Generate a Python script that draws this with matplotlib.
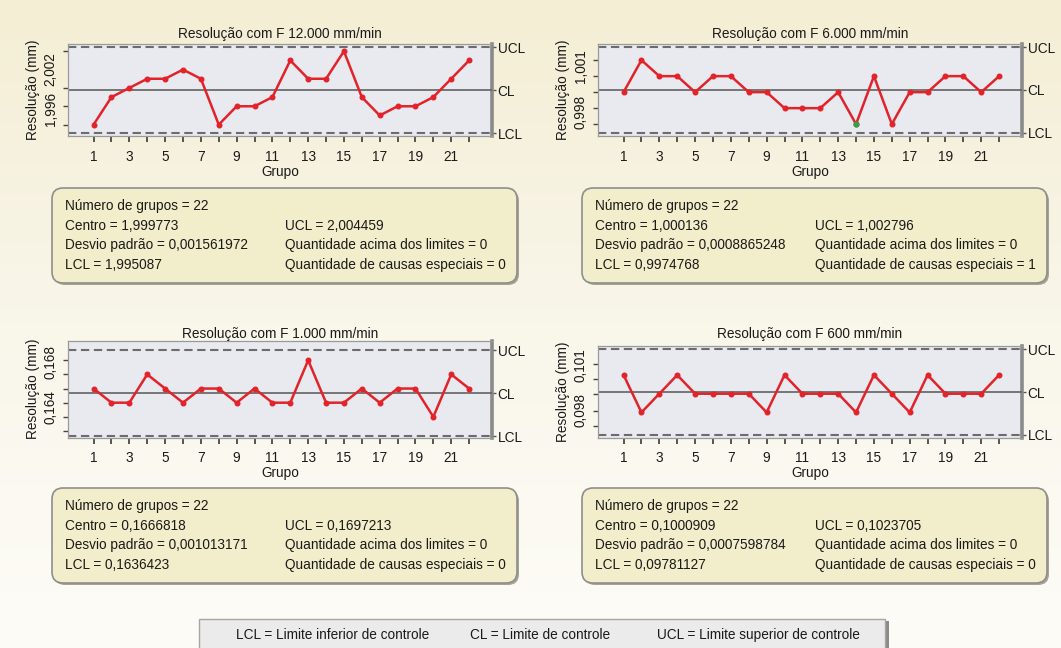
import numpy as np
import matplotlib.pyplot as plt
from matplotlib.patches import FancyBboxPatch, Rectangle
from matplotlib.colors import LinearSegmentedColormap

plt.rcParams['font.family'] = ['Liberation Sans', 'DejaVu Sans']
plt.rcParams['font.size'] = 9.8

W, H = 1061, 648

grupos = np.arange(1, 23)

titulos = ['Resolução com F 12.000 mm/min', 'Resolução com F 6.000 mm/min',
           'Resolução com F 1.000 mm/min', 'Resolução com F 600 mm/min']

res_12000 = [1.996, 1.999, 2.000, 2.001, 2.001, 2.002, 2.001, 1.996, 1.998, 1.998, 1.999,
             2.003, 2.001, 2.001, 2.004, 1.999, 1.997, 1.998, 1.998, 1.999, 2.001, 2.003]
res_6000 = [1.000, 1.002, 1.001, 1.001, 1.000, 1.001, 1.001, 1.000, 1.000, 0.999, 0.999,
            0.999, 1.000, 0.998, 1.001, 0.998, 1.000, 1.000, 1.001, 1.001, 1.000, 1.001]
res_1000 = [0.167, 0.166, 0.166, 0.168, 0.167, 0.166, 0.167, 0.167, 0.166, 0.167, 0.166,
            0.166, 0.169, 0.166, 0.166, 0.167, 0.166, 0.167, 0.167, 0.165, 0.168, 0.167]
res_600 = [0.101, 0.099, 0.100, 0.101, 0.100, 0.100, 0.100, 0.100, 0.099, 0.101, 0.100,
           0.100, 0.100, 0.099, 0.101, 0.100, 0.099, 0.101, 0.100, 0.100, 0.100, 0.101]
series = [res_12000, res_6000, res_1000, res_600]

centro = [1.999773, 1.000136, 0.1666818, 0.1000909]
ucl = [2.004459, 1.002796, 0.1697213, 0.1023705]
lcl = [1.995087, 0.9974768, 0.1636423, 0.09781127]
desvio = [0.001561972, 0.0008865248, 0.001013171, 0.0007598784]
acima = [0, 0, 0, 0]
especiais = [0, 1, 0, 0]
# grupos marcados como causa especial
grupos_especiais = [[], [14], [], []]

# marcas do eixo y e rótulos (rotacionados)
marcas_y = [[2.004, 2.002, 2.000, 1.998, 1.996],
            [1.002, 1.001, 1.000, 0.999, 0.998],
            [0.169, 0.168, 0.167, 0.166, 0.165, 0.164],
            [0.1016, 0.1008, 0.1000, 0.0991, 0.0983]]
rot_pos = [[2.002, 1.9977], [1.0016, 0.99876], [0.16889, 0.16567], [0.10154, 0.09915]]
rot_txt = [['2,002', '1,996'], ['1,001', '0,998'], ['0,168', '0,164'], ['0,101', '0,098']]
limites_y = [(1.99476, 2.00479), (0.99726, 1.00301), (0.16354, 0.17036), (0.09766, 0.10255)]

legenda = ['LCL = Limite inferior de controle', 'CL = Limite de controle',
           'UCL = Limite superior de controle']


def virgula(v):
    return str(v).replace('.', ',')


fig = plt.figure(figsize=(W / 100, H / 100), dpi=100)

# fundo e caixas em coordenadas de pixel
base = fig.add_axes([0, 0, 1, 1], zorder=-1)
base.set_xlim(0, W)
base.set_ylim(H, 0)
base.axis('off')
grad = np.linspace(0, 1, 256).reshape(-1, 1)
cmap = LinearSegmentedColormap.from_list('fundo', ['#f4eed4', '#f9f6ea', '#fdfcf7'])
base.imshow(grad, aspect='auto', cmap=cmap, extent=[0, W, H, 0])

caixas_graf = [(68, 44, 492, 136), (598, 44, 1022, 136),
               (68, 341, 492, 437.5), (598, 346, 1022, 437.5)]
pad_titulo = [4.5, 4.5, 1.5, 6.0]
caixas_info = [(52, 188, 517, 283), (582, 188, 1047, 283),
               (52, 488, 517, 583), (582, 488, 1047, 583)]

for i in range(4):
    l, t, r, b = caixas_graf[i]
    ax = fig.add_axes([l / W, 1 - b / H, (r - l) / W, (b - t) / H])
    ax.set_facecolor('#e8eaf0')
    vals = series[i]
    ax.plot(grupos, vals, color='#e2232a', lw=1.8, marker='o', ms=3.3, zorder=3)
    for g in grupos_especiais[i]:
        ax.plot(g, vals[g - 1], 'o', color='#2aa64a', ms=3.3, zorder=4)
    ax.axhline(centro[i], color='#626262', lw=1.2, zorder=2)
    ax.axhline(ucl[i], color='#6c6c6c', lw=1.5, ls=(0, (4, 2.2)), zorder=2)
    ax.axhline(lcl[i], color='#6c6c6c', lw=1.5, ls=(0, (4, 2.2)), zorder=2)

    ax.set_xlim(-0.43, 23.28)
    ax.set_ylim(*limites_y[i])
    ax.set_xticks(grupos, labels=[str(g) if g % 2 else '' for g in grupos])
    ax.tick_params(axis='x', length=4.5, width=1.2, color='#3a3a3a', pad=5.5,
                   labelcolor='#1a1a1a')
    ax.set_yticks(marcas_y[i], minor=True)
    ax.set_yticks(rot_pos[i], labels=rot_txt[i])
    ax.tick_params(axis='y', which='minor', length=3.5, width=1.0, color='#444444')
    ax.tick_params(axis='y', which='major', length=0, pad=7.5, labelcolor='#1a1a1a')
    for lb in ax.get_yticklabels():
        lb.set_rotation(90)
        lb.set_va('center')

    ax.set_title(titulos[i], pad=pad_titulo[i], color='#1a1a1a', fontsize=9.8)
    ax.set_xlabel('Grupo', labelpad=0.5, color='#1a1a1a')
    ax.set_ylabel('Resolução (mm)', color='#1a1a1a')
    ax.yaxis.set_label_coords(-0.067, 0.5)

    for s in ['left', 'top', 'bottom']:
        ax.spines[s].set_color('#9a9a9a')
        ax.spines[s].set_linewidth(0.9)
    ax.spines['right'].set_visible(False)

    sec = ax.secondary_yaxis('right')
    sec.set_yticks([ucl[i], centro[i], lcl[i]], labels=['UCL', 'CL', 'LCL'])
    sec.yaxis.set_minor_locator(plt.NullLocator())
    sec.tick_params(length=3, width=1.0, pad=1.0, color='#555555', labelcolor='#1a1a1a')
    sec.spines['right'].set_color('#8a8a8a')
    sec.spines['right'].set_linewidth(2.6)

    # caixa com as estatísticas
    bl, bt, br, bb = caixas_info[i]
    sombra = FancyBboxPatch((bl + 2, bt + 2), br - bl, bb - bt,
                            boxstyle='round,pad=0,rounding_size=11',
                            fc='#a7a38f', ec='none', zorder=1)
    caixa = FancyBboxPatch((bl, bt), br - bl, bb - bt,
                           boxstyle='round,pad=0,rounding_size=11',
                           fc='#f2edca', ec='#8e8e8e', lw=1.2, zorder=2)
    base.add_patch(sombra)
    base.add_patch(caixa)
    y0 = bt + 18
    dy = 19.7
    xe = bl + 13
    xd = bl + 233
    kw = dict(va='center', ha='left', color='#1a1a1a', zorder=3)
    base.text(xe, y0, f'Número de grupos = {len(vals)}', **kw)
    base.text(xe, y0 + dy, f'Centro = {virgula(centro[i])}', **kw)
    base.text(xe, y0 + 2 * dy, f'Desvio padrão = {virgula(desvio[i])}', **kw)
    base.text(xe, y0 + 3 * dy, f'LCL = {virgula(lcl[i])}', **kw)
    base.text(xd, y0 + dy, f'UCL = {virgula(ucl[i])}', **kw)
    base.text(xd, y0 + 2 * dy, f'Quantidade acima dos limites = {acima[i]}', **kw)
    base.text(xd, y0 + 3 * dy, f'Quantidade de causas especiais = {especiais[i]}', **kw)

# legenda das siglas
base.add_patch(Rectangle((201, 621), 688, 40, fc='#8a8a8a', ec='none', zorder=1))
base.add_patch(Rectangle((199, 619), 686, 40, fc='#ebebeb', ec='#a5a5a5', lw=1.0, zorder=2))
for txt, xc in zip(legenda, [333, 540, 758]):
    base.text(xc, 635, txt, ha='center', va='center', color='#1a1a1a', zorder=3)

fig.savefig('out.png', dpi=100)
